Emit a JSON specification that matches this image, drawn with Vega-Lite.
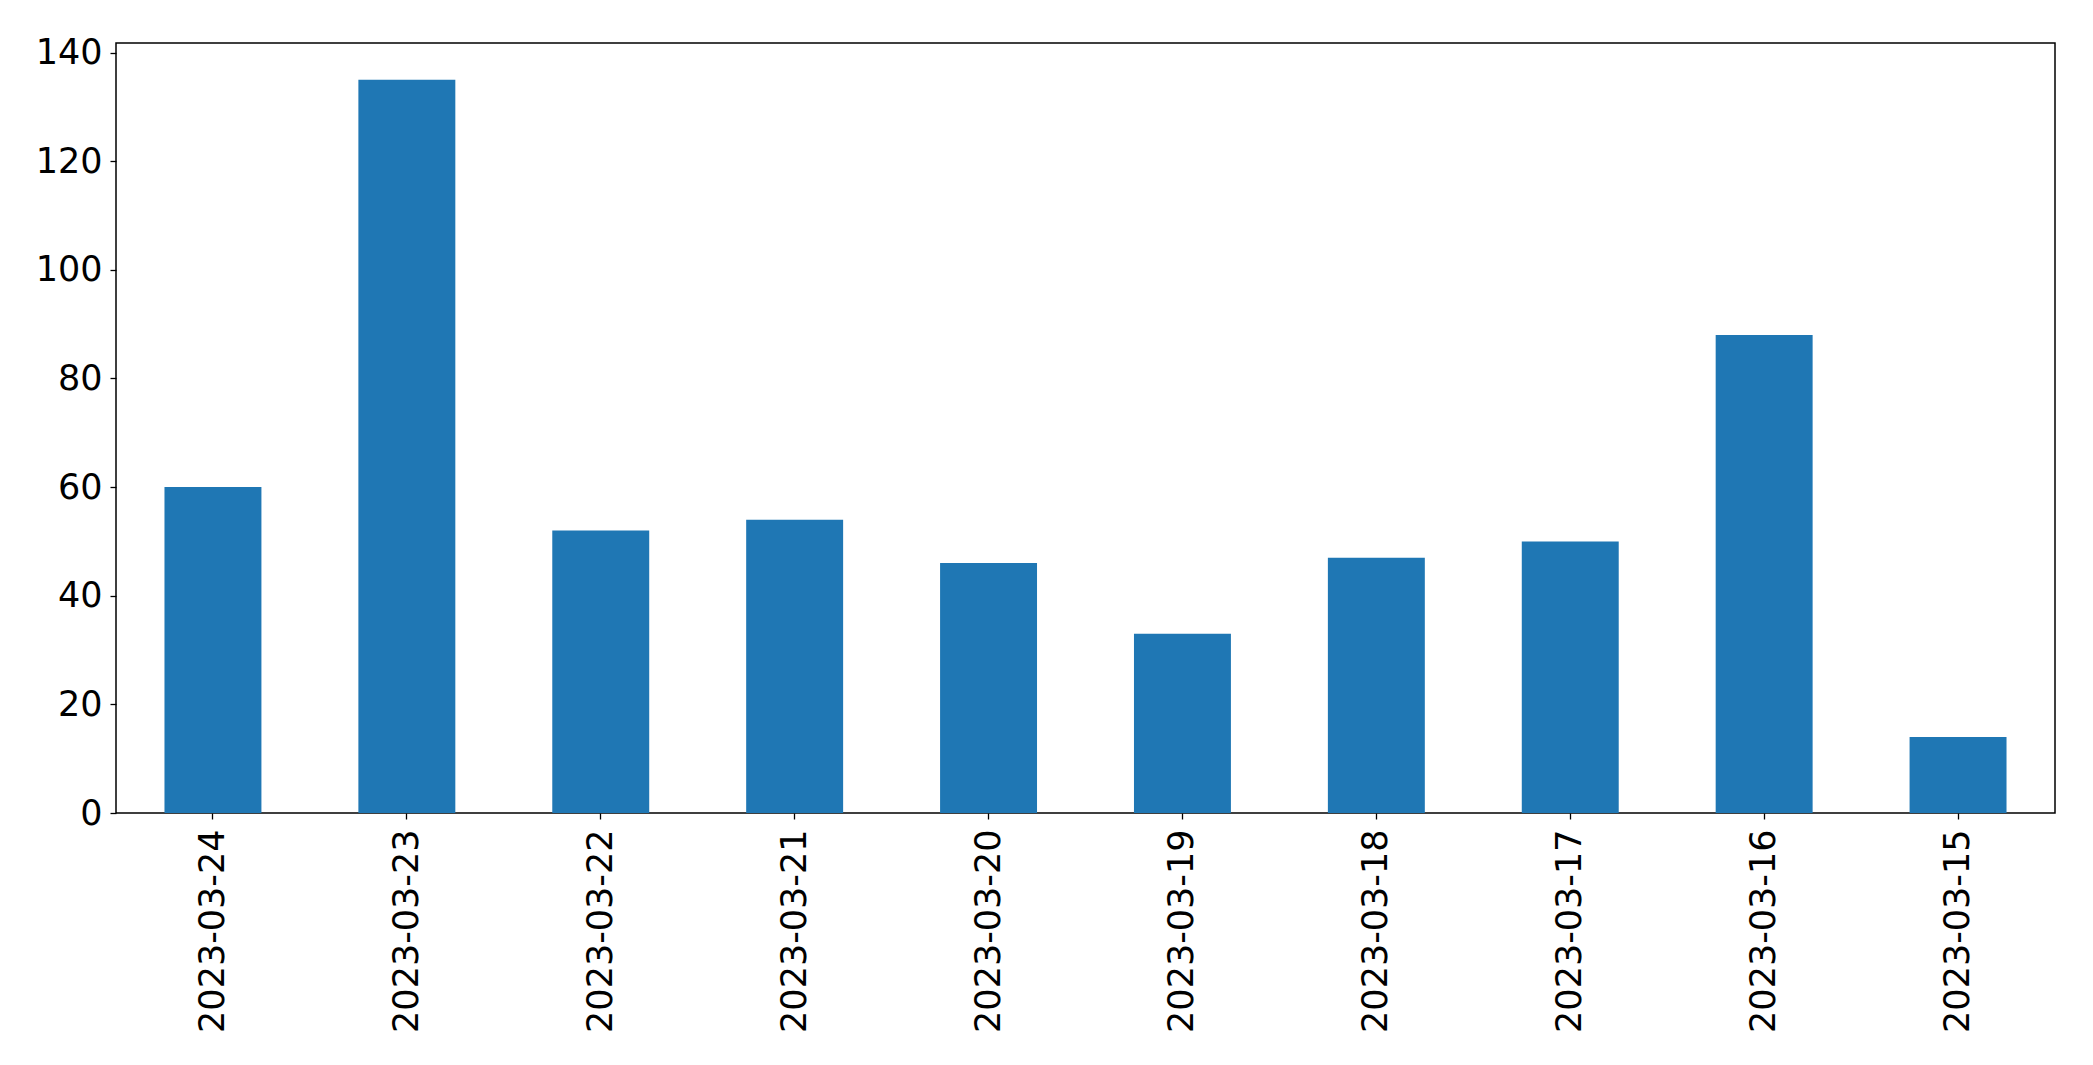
{
  "$schema": "https://vega.github.io/schema/vega-lite/v6.json",
  "width": 1939,
  "height": 770,
  "autosize": "none",
  "padding": {"left": 116, "top": 43, "right": 38, "bottom": 252},
  "background": "white",
  "data": {
    "values": [
      {"date": "2023-03-24", "count": 60},
      {"date": "2023-03-23", "count": 135},
      {"date": "2023-03-22", "count": 52},
      {"date": "2023-03-21", "count": 54},
      {"date": "2023-03-20", "count": 46},
      {"date": "2023-03-19", "count": 33},
      {"date": "2023-03-18", "count": 47},
      {"date": "2023-03-17", "count": 50},
      {"date": "2023-03-16", "count": 88},
      {"date": "2023-03-15", "count": 14}
    ]
  },
  "mark": {"type": "bar", "color": "#1f77b4"},
  "encoding": {
    "x": {
      "field": "date",
      "type": "nominal",
      "sort": null,
      "scale": {"paddingInner": 0.5, "paddingOuter": 0.25},
      "axis": {
        "title": null,
        "labelAngle": 270,
        "labelFont": "DejaVu Sans",
        "labelFontSize": 35,
        "labelLimit": 0,
        "labelColor": "black",
        "labelPadding": 10,
        "tickColor": "black",
        "tickSize": 6,
        "tickWidth": 1.3,
        "domain": false,
        "grid": false
      }
    },
    "y": {
      "field": "count",
      "type": "quantitative",
      "scale": {"domain": [0, 141.75], "nice": false, "zero": true},
      "axis": {
        "title": null,
        "values": [0, 20, 40, 60, 80, 100, 120, 140],
        "labelFont": "DejaVu Sans",
        "labelFontSize": 35,
        "labelColor": "black",
        "labelPadding": 8,
        "tickColor": "black",
        "tickSize": 6,
        "tickWidth": 1.3,
        "domain": false,
        "grid": false
      }
    }
  },
  "config": {
    "view": {"stroke": "black", "strokeWidth": 1.5}
  }
}
